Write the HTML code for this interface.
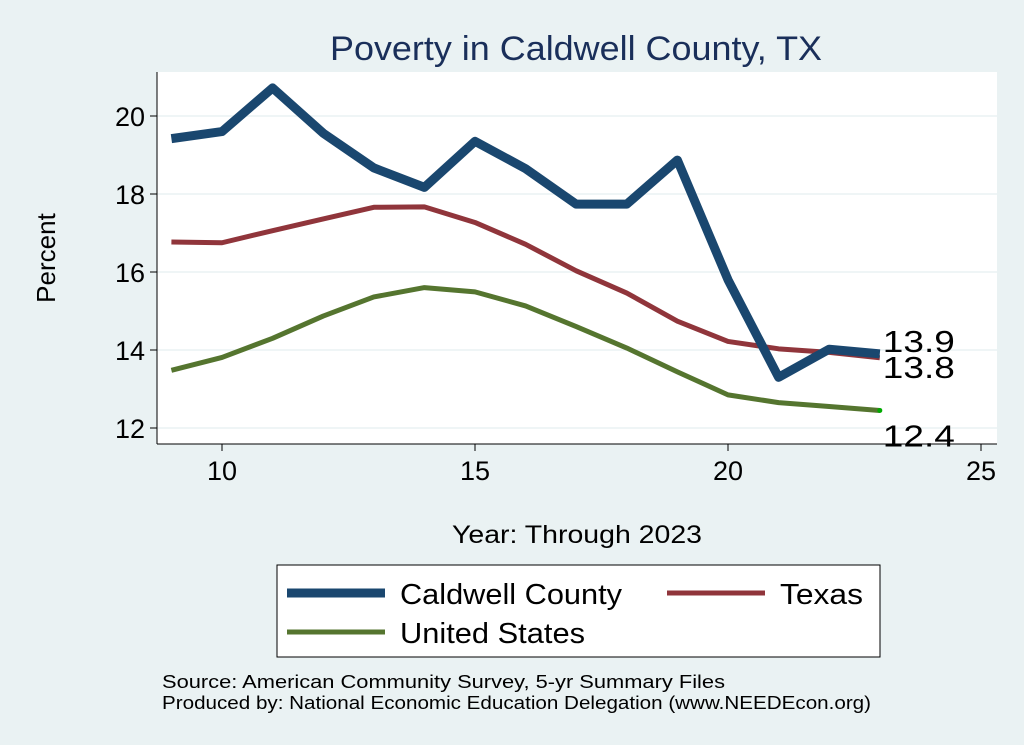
<!DOCTYPE html>
<html><head><meta charset="utf-8"><style>
body{margin:0;background:#eaf2f3;}
svg{display:block;font-family:"Liberation Sans",Arial,sans-serif;}
</style></head><body>
<svg id="chart" width="1024" height="745" viewBox="0 0 1024 745">
<rect x="0" y="0" width="1024" height="745" fill="#eaf2f3"/>
<text x="330" y="60" font-size="34" fill="#1a2f5a" textLength="492" lengthAdjust="spacingAndGlyphs">Poverty in Caldwell County, TX</text>
<rect x="157" y="72" width="840" height="372" fill="#fff"/>
<g id="grid"></g>
<g id="axes"></g>
<g id="series"></g>
<text x="55" y="258" font-size="26" text-anchor="middle" transform="rotate(-90 55 258)">Percent</text>
<text x="452" y="543" font-size="25" textLength="250" lengthAdjust="spacingAndGlyphs">Year: Through 2023</text>
<g>
<rect x="277" y="565" width="603" height="92" fill="#fff" stroke="#000" stroke-width="1"/>
<line x1="287" y1="593" x2="385" y2="593" stroke="#1a476f" stroke-width="9"/>
<text x="400" y="604" font-size="29" textLength="222" lengthAdjust="spacingAndGlyphs">Caldwell County</text>
<line x1="667" y1="593" x2="765" y2="593" stroke="#90353b" stroke-width="5"/>
<text x="780" y="604" font-size="29" textLength="83" lengthAdjust="spacingAndGlyphs">Texas</text>
<line x1="287" y1="632" x2="385" y2="632" stroke="#55752f" stroke-width="5"/>
<text x="400" y="643" font-size="29" textLength="185" lengthAdjust="spacingAndGlyphs">United States</text>
</g>
<text x="162" y="688" font-size="18" textLength="563" lengthAdjust="spacingAndGlyphs">Source: American Community Survey, 5-yr Summary Files</text>
<text x="162" y="709" font-size="18" textLength="709" lengthAdjust="spacingAndGlyphs">Produced by: National Economic Education Delegation (www.NEEDEcon.org)</text>
</svg>
<script>
const years=[9,10,11,12,13,14,15,16,17,18,19,20,21,22,23];
const caldwell=[19.42,19.6,20.72,19.56,18.67,18.17,19.35,18.65,17.74,17.74,18.87,15.8,13.3,14.02,13.9];
const texas=[16.77,16.75,17.06,17.36,17.66,17.67,17.27,16.71,16.03,15.46,14.74,14.22,14.03,13.94,13.8];
const us=[13.48,13.81,14.3,14.87,15.36,15.6,15.49,15.13,14.6,14.05,13.44,12.85,12.65,12.55,12.45];
const xTicks=[10,15,20,25];
const yTicks=[12,14,16,18,20];
const NS='http://www.w3.org/2000/svg';
function X(v){return 222+(v-10)*50.6;}
function Y(v){return 428-(v-12)*39;}
function mk(tag,attrs,parent){const e=document.createElementNS(NS,tag);for(const k in attrs)e.setAttribute(k,attrs[k]);parent.appendChild(e);return e;}
const grid=document.getElementById('grid'),axes=document.getElementById('axes'),ser=document.getElementById('series');
yTicks.forEach(t=>{
 const g=mk('line',{x1:157,x2:997,y1:Y(t),y2:Y(t),stroke:'#eaf2f3','stroke-width':1.5},grid);
 
 
 const tk=mk('line',{x1:150,x2:157,y1:Y(t),y2:Y(t),stroke:'#000'},axes);
 
 
 const l=mk('text',{x:145,y:Y(t)+10,'font-size':27,'text-anchor':'end'},axes);l.textContent=t;
 
 
});
xTicks.forEach(t=>{
 const tk=mk('line',{x1:X(t),x2:X(t),y1:444,y2:451,stroke:'#000'},axes);
 
 
 const l=mk('text',{x:X(t),y:480,'font-size':27,'text-anchor':'middle'},axes);l.textContent=t;
 
 
});
const ax1=mk('line',{x1:157,x2:157,y1:72,y2:444,stroke:'#000'},axes);


const ax2=mk('line',{x1:157,x2:997,y1:444,y2:444,stroke:'#000'},axes);


function line(vals,color,w,name){
 const p=mk('polyline',{points:vals.map((v,i)=>X(years[i])+','+Y(v)).join(' '),fill:'none',stroke:color,'stroke-width':w,'stroke-linejoin':'round'},ser);
 
 
}
line(us,'#55752f',5,'line-united-states');
line(texas,'#90353b',5,'line-texas');
line(caldwell,'#1a476f',9,'line-caldwell');
const d=mk('circle',{cx:X(23),cy:Y(us[us.length-1]),r:2.5,fill:'#0a0'},ser);


[[caldwell,-2,'end-label-caldwell'],[texas,20,'end-label-texas'],[us,36,'end-label-us']].forEach(([a,dy,n])=>{
 const v=a[a.length-1];
 const t=mk('text',{x:X(23)+3,y:Y(v)+dy,'font-size':31,textLength:72,lengthAdjust:'spacingAndGlyphs'},ser);t.textContent=v.toFixed(1);
 
 
});
</script>
</body></html>
